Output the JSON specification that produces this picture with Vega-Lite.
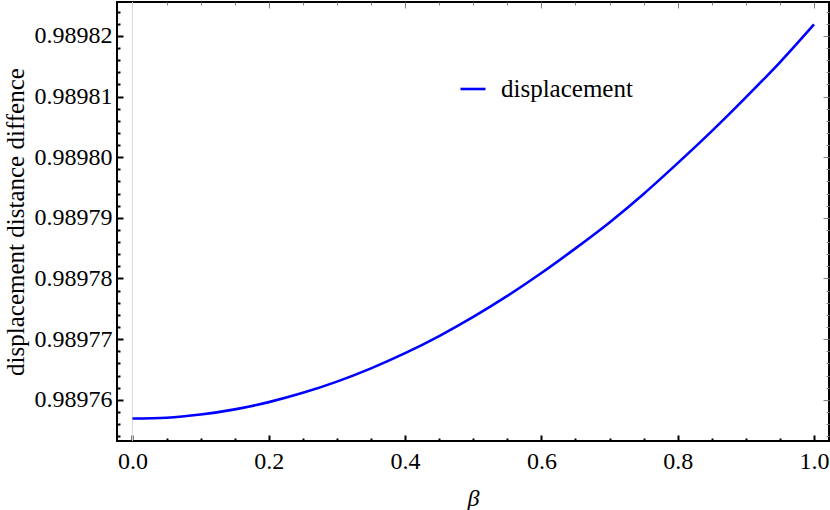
{
  "$schema": "https://vega.github.io/schema/vega-lite/v6.json",
  "width": 712,
  "height": 439,
  "autosize": "none",
  "padding": {"left": 117, "top": 2, "right": 1, "bottom": 69},
  "background": "white",
  "config": {
    "font": "Liberation Serif",
    "view": {"stroke": "black", "strokeWidth": 2},
    "axis": {"grid": false, "domain": false, "labelFont": "Liberation Serif", "titleFont": "Liberation Serif", "labelFontSize": 24, "titleFontSize": 26, "titleFontWeight": "normal", "labelColor": "black", "titleColor": "black"},
    "legend": {"labelFont": "Liberation Serif"}
  },
  "datasets": {
    "curve": [
      {"beta": 0.00, "value": 0.98975690, "series": "displacement"},
      {"beta": 0.05, "value": 0.98975704, "series": "displacement"},
      {"beta": 0.10, "value": 0.98975756, "series": "displacement"},
      {"beta": 0.15, "value": 0.98975842, "series": "displacement"},
      {"beta": 0.20, "value": 0.98975961, "series": "displacement"},
      {"beta": 0.25, "value": 0.98976114, "series": "displacement"},
      {"beta": 0.30, "value": 0.98976299, "series": "displacement"},
      {"beta": 0.35, "value": 0.98976518, "series": "displacement"},
      {"beta": 0.40, "value": 0.98976768, "series": "displacement"},
      {"beta": 0.45, "value": 0.98977051, "series": "displacement"},
      {"beta": 0.50, "value": 0.98977366, "series": "displacement"},
      {"beta": 0.55, "value": 0.98977712, "series": "displacement"},
      {"beta": 0.60, "value": 0.98978090, "series": "displacement"},
      {"beta": 0.65, "value": 0.98978497, "series": "displacement"},
      {"beta": 0.70, "value": 0.98978925, "series": "displacement"},
      {"beta": 0.75, "value": 0.98979394, "series": "displacement"},
      {"beta": 0.80, "value": 0.98979902, "series": "displacement"},
      {"beta": 0.85, "value": 0.98980430, "series": "displacement"},
      {"beta": 0.90, "value": 0.98980987, "series": "displacement"},
      {"beta": 0.95, "value": 0.98981565, "series": "displacement"},
      {"beta": 1.00, "value": 0.98982190, "series": "displacement"}
    ]
  },
  "resolve": {"axis": {"x": "independent", "y": "independent"}},
  "layer": [
    {
      "data": {"values": [{"beta": 0}]},
      "mark": {"type": "rule", "color": "#d9d9d9", "strokeWidth": 1},
      "encoding": {
        "x": {"field": "beta", "type": "quantitative", "axis": null, "scale": {"domain": [-0.0227, 1.022], "nice": false, "zero": false}}
      }
    },
    {
      "data": {"name": "curve"},
      "mark": {"type": "point", "opacity": 0},
      "encoding": {
        "x": {"field": "beta", "type": "quantitative", "axis": {"orient": "top", "values": [0,0.05,0.1,0.15,0.2,0.25,0.3,0.35,0.4,0.45,0.5,0.55,0.6,0.65,0.7,0.75,0.8,0.85,0.9,0.95,1.0], "labels": false, "title": null, "tickSize": {"condition": {"test": "abs(datum.value*5 - round(datum.value*5)) < 0.001", "value": -6}, "value": -3}, "tickWidth": 1, "tickColor": "#808080"}},
        "y": {"field": "value", "type": "quantitative", "axis": {"orient": "right", "values": [0.989754,0.989756,0.989758,0.98976,0.989762,0.989764,0.989766,0.989768,0.98977,0.989772,0.989774,0.989776,0.989778,0.98978,0.989782,0.989784,0.989786,0.989788,0.98979,0.989792,0.989794,0.989796,0.989798,0.9898,0.989802,0.989804,0.989806,0.989808,0.98981,0.989812,0.989814,0.989816,0.989818,0.98982,0.989822,0.989824], "labels": false, "title": null, "tickSize": {"condition": {"test": "abs(datum.value*1e5 - round(datum.value*1e5)) < 0.01", "value": -6}, "value": -3}, "tickWidth": 1, "tickColor": "#808080"}}
      }
    },
    {
      "data": {"name": "curve"},
      "mark": {"type": "line", "strokeWidth": 2.6, "interpolate": "monotone"},
      "encoding": {
        "x": {"field": "beta", "type": "quantitative", "title": "β", "axis": {"orient": "bottom", "values": [0,0.05,0.1,0.15,0.2,0.25,0.3,0.35,0.4,0.45,0.5,0.55,0.6,0.65,0.7,0.75,0.8,0.85,0.9,0.95,1.0], "labelExpr": "abs(datum.value*5 - round(datum.value*5)) < 0.001 ? format(datum.value, '.1f') : ''", "labelFont": "Liberation Serif", "titleFont": "Liberation Serif", "labelFontSize": 24, "titleFontSize": 24, "tickSize": {"condition": {"test": "abs(datum.value*5 - round(datum.value*5)) < 0.001", "value": -6}, "value": -3}, "tickWidth": 2, "tickColor": "black", "labelPadding": 14, "titlePadding": 10, "titleFontStyle": "italic", "labelOverlap": false, "labelBound": false}},
        "y": {"field": "value", "type": "quantitative", "title": "displacement distance diffence", "scale": {"domain": [0.9897532, 0.9898256], "nice": false, "zero": false}, "axis": {"orient": "left", "values": [0.989754,0.989756,0.989758,0.98976,0.989762,0.989764,0.989766,0.989768,0.98977,0.989772,0.989774,0.989776,0.989778,0.98978,0.989782,0.989784,0.989786,0.989788,0.98979,0.989792,0.989794,0.989796,0.989798,0.9898,0.989802,0.989804,0.989806,0.989808,0.98981,0.989812,0.989814,0.989816,0.989818,0.98982,0.989822,0.989824], "labelExpr": "abs(datum.value*1e5 - round(datum.value*1e5)) < 0.01 ? format(datum.value, '.5f') : ''", "labelFont": "Liberation Serif", "titleFont": "Liberation Serif", "labelFontSize": 24, "titleFontSize": 25, "tickSize": {"condition": {"test": "abs(datum.value*1e5 - round(datum.value*1e5)) < 0.01", "value": -6}, "value": -3}, "tickWidth": 2, "tickColor": "black", "labelPadding": 11, "titlePadding": 6, "labelOverlap": false, "labelBound": false}},
        "color": {"field": "series", "type": "nominal", "scale": {"range": ["#0000ff"]}, "legend": {"title": null, "orient": "none", "legendX": 342, "legendY": 73, "symbolType": "stroke", "symbolSize": 625, "symbolStrokeWidth": 2.6, "labelFontSize": 25, "labelFont": "Liberation Serif", "labelColor": "black", "labelOffset": 14}}
      }
    }
  ]
}
